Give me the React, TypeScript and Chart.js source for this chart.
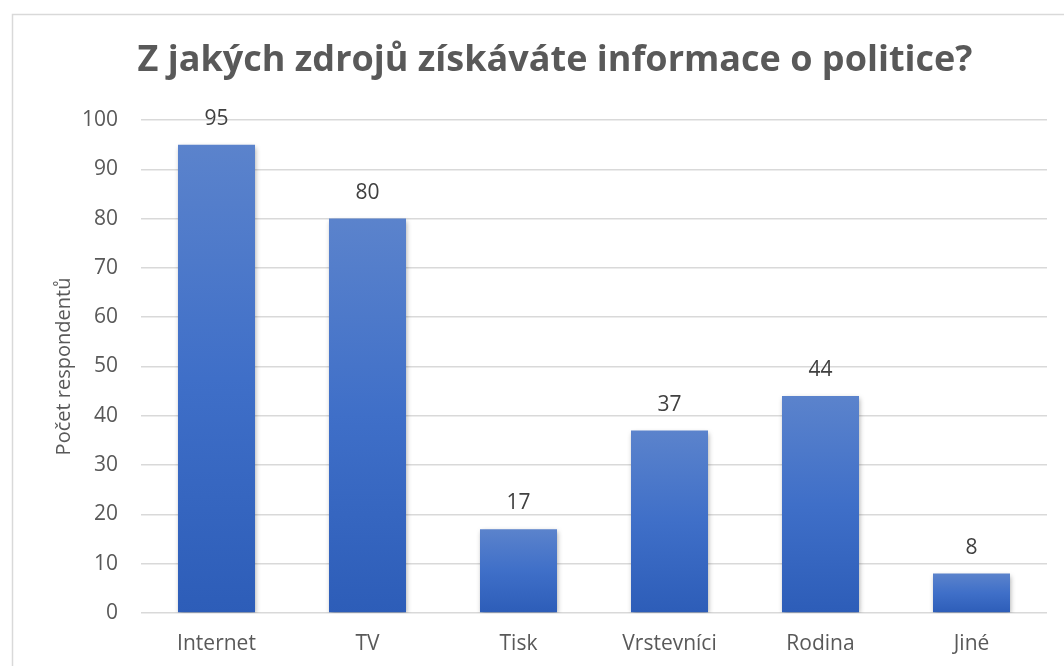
import React, { useEffect, useRef } from "react";
import { Chart, registerables } from "chart.js";

Chart.register(...registerables);

const categories = ["Internet", "TV", "Tisk", "Vrstevníci", "Rodina", "Jiné"];
const values = [95, 80, 17, 37, 44, 8];
const yTicks = [0, 10, 20, 30, 40, 50, 60, 70, 80, 90, 100];
const titleText = "Z jakých zdrojů získáváte informace o politice?";
const yTitle = "Počet respondentů";

const FONT = "'Open Sans', Lato, sans-serif";

export default function App() {
  const ref = useRef<HTMLCanvasElement | null>(null);

  useEffect(() => {
    const canvas = ref.current;
    if (!canvas) return;

    const framePlugin = {
      id: "frame",
      beforeDraw(chart: any) {
        const ctx = chart.ctx;
        ctx.save();
        ctx.fillStyle = "#ffffff";
        ctx.fillRect(0, 0, chart.width, chart.height);
        ctx.strokeStyle = "#d9d9d9";
        ctx.lineWidth = 1.5;
        ctx.strokeRect(12.5, 14.5, chart.width + 20, chart.height + 20);
        ctx.fillStyle = "#595959";
        ctx.font = `bold 36px ${FONT}`;
        ctx.textAlign = "center";
        ctx.textBaseline = "middle";
        ctx.fillText(titleText, 555, 61);
        ctx.restore();
      },
    };

    const shadowPlugin = {
      id: "barShadow",
      beforeDatasetDraw(chart: any) {
        const ctx = chart.ctx;
        ctx.save();
        ctx.shadowColor = "rgba(0,0,0,0.35)";
        ctx.shadowBlur = 5;
        ctx.shadowOffsetX = 1;
        ctx.shadowOffsetY = 2;
      },
      afterDatasetDraw(chart: any) {
        chart.ctx.restore();
      },
    };

    const labelPlugin = {
      id: "dataLabels",
      afterDatasetsDraw(chart: any) {
        const ctx = chart.ctx;
        const meta = chart.getDatasetMeta(0);
        ctx.save();
        ctx.fillStyle = "#404040";
        ctx.font = `21px ${FONT}`;
        ctx.textAlign = "center";
        ctx.textBaseline = "middle";
        meta.data.forEach((bar: any, i: number) => {
          ctx.fillText(String(values[i]), bar.x, bar.y - 26);
        });
        ctx.restore();
      },
    };

    const chart = new Chart(canvas, {
      type: "bar",
      data: {
        labels: categories,
        datasets: [
          {
            data: values,
            backgroundColor: (context: any) => {
              const c = context.chart;
              const ys = c.scales && c.scales.y;
              if (!ys || context.parsed == null) return "#4472c4";
              const top = ys.getPixelForValue(context.parsed.y);
              const bottom = ys.getPixelForValue(0);
              if (!isFinite(top) || !isFinite(bottom) || top === bottom) return "#4472c4";
              const g = c.ctx.createLinearGradient(0, top, 0, bottom);
              g.addColorStop(0, "#5b83cc");
              g.addColorStop(0.5, "#3f6fc8");
              g.addColorStop(1, "#2d5db8");
              return g;
            },
            borderWidth: 0,
            categoryPercentage: 1,
            barPercentage: 0.51,
          },
        ],
      },
      options: {
        responsive: false,
        animation: false,
        layout: { padding: { left: 0, right: 17, top: 120, bottom: 0 } },
        plugins: {
          legend: { display: false },
          title: { display: false },
          tooltip: { enabled: false },
        },
        scales: {
          x: {
            grid: { display: false, drawTicks: false },
            border: { display: false },
            ticks: {
              color: "#595959",
              font: { family: FONT, size: 21 },
              padding: 18,
            },
            afterFit: (s: any) => {
              s.height = 53;
            },
          },
          y: {
            min: 0,
            max: 100,
            afterBuildTicks: (s: any) => {
              s.ticks = yTicks.map((v) => ({ value: v }));
            },
            grid: { color: "#d9d9d9", lineWidth: 1.5, drawTicks: false },
            border: { display: false },
            ticks: {
              color: "#595959",
              font: { family: FONT, size: 21 },
              padding: 23,
            },
            title: {
              display: true,
              text: yTitle,
              color: "#595959",
              font: { family: FONT, size: 20 },
              padding: { top: 52, bottom: 0 },
            },
            afterFit: (s: any) => {
              s.width = 141;
            },
          },
        },
      },
      plugins: [framePlugin, shadowPlugin, labelPlugin],
    });

    return () => chart.destroy();
  }, []);

  return (
    <div style={{ position: "fixed", left: 0, top: 0, width: 1064, height: 666, background: "#fff" }}>
      <canvas ref={ref} width={1064} height={666} style={{ display: "block" }} />
    </div>
  );
}
